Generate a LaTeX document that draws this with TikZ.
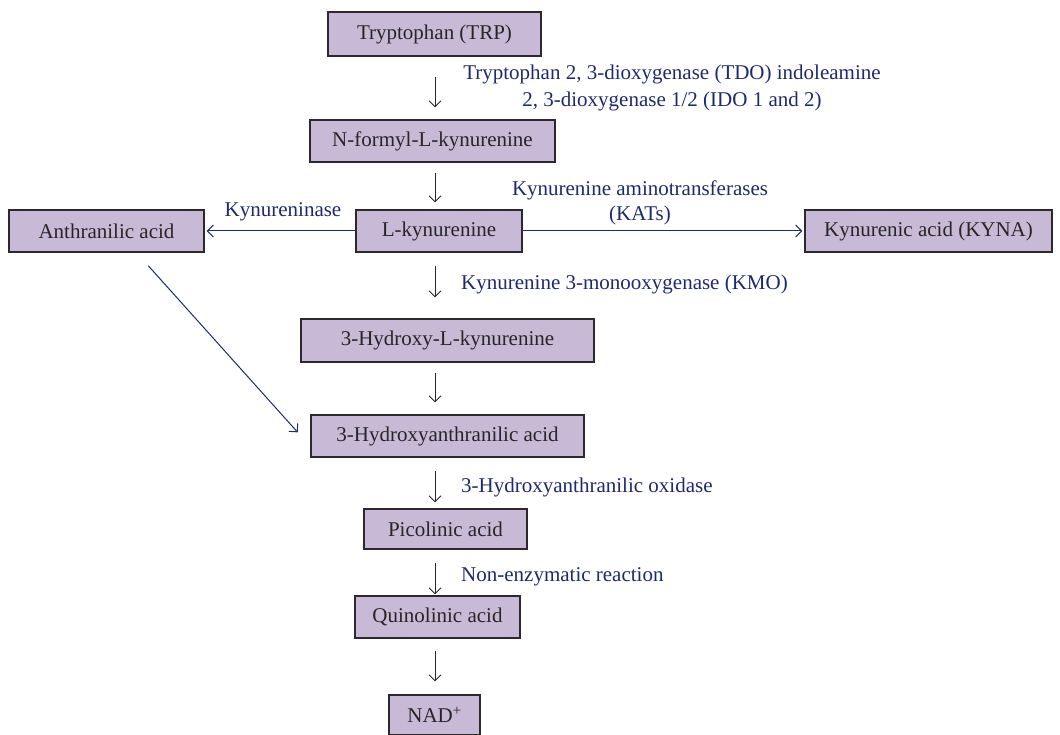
\documentclass[tikz,border=0pt]{standalone}
\usepackage{fontspec}
\setmainfont{Liberation Serif}
\usetikzlibrary{arrows.meta,calc}
\definecolor{boxfill}{RGB}{200,185,214}
\definecolor{boxline}{RGB}{45,40,45}
\definecolor{navy}{RGB}{30,42,110}
\tikzset{
  box/.style={draw=boxline, fill=boxfill, line width=1.2pt, inner sep=0pt,
    font=\fontsize{21}{24}\selectfont, text=black!85},
  lab/.style={inner sep=0pt, font=\fontsize{21}{26}\selectfont, text=navy},
  varrow/.style={draw=black!85, line width=0.9pt, -{Straight Barb[length=6pt,width=12pt]}},
  harrow/.style={draw=navy, line width=1pt, -{Straight Barb[length=6pt,width=12pt]}}
}
\begin{document}
\begin{tikzpicture}[x=1pt,y=-1pt]
\useasboundingbox (0,0) rectangle (1060,735);
\coordinate (ax) at (435,0);
\node[box, minimum width=213pt, minimum height=44pt] (trp) at (434.5,34) {Tryptophan (TRP)};
\node[box, minimum width=245pt, minimum height=42pt] (nfk) at (432.5,141) {N-formyl-L-kynurenine};
\node[box, minimum width=166pt, minimum height=42pt] (lk) at (439,231) {L-kynurenine};
\node[box, minimum width=195pt, minimum height=42pt] (anth) at (106.5,231) {Anthranilic acid};
\node[box, minimum width=247pt, minimum height=42pt] (kyna) at (928.5,231) {Kynurenic acid (KYNA)};
\node[box, minimum width=293pt, minimum height=43pt] (hk) at (447.5,340.5) {3-Hydroxy-L-kynurenine};
\node[box, minimum width=273pt, minimum height=42pt] (hya) at (447.5,436) {3-Hydroxyanthranilic acid};
\node[box, minimum width=163pt, minimum height=40pt] (pic) at (445.5,529) {Picolinic acid};
\node[box, minimum width=165pt, minimum height=42pt] (qa) at (437.5,617) {Quinolinic acid};
\node[box, minimum width=91pt, minimum height=40pt] (nad) at (434.5,715) {NAD\textsuperscript{+}};

\node[lab] (l1a) at (672,74) {Tryptophan 2, 3-dioxygenase (TDO) indoleamine};
\node[lab] (l1b) at (672,101) {2, 3-dioxygenase 1/2 (IDO 1 and 2)};
\node[lab] (l2) at (283,212) {Kynureninase};
\node[lab] (l3a) at (640,190) {Kynurenine aminotransferases};
\node[lab] (l3b) at (640,215) {(KATs)};
\node[lab, anchor=west] (l4) at (461,284) {Kynurenine 3-monooxygenase (KMO)};
\node[lab, anchor=west] (l5) at (461,487) {3-Hydroxyanthranilic oxidase};
\node[lab, anchor=west] (l6) at (461,577) {Non-enzymatic reaction};

\draw[varrow, shorten <=20pt, shorten >=12pt] (trp.south -| ax) -- (nfk.north -| ax);
\draw[varrow, shorten <=10pt, shorten >=7pt] (nfk.south -| ax) -- (lk.north -| ax);
\draw[varrow, shorten <=13pt, shorten >=21pt] (lk.south -| ax) -- (hk.north -| ax);
\draw[varrow, shorten <=10pt, shorten >=12pt] (hk.south -| ax) -- (hya.north -| ax);
\draw[varrow, shorten <=13pt, shorten >=6pt] (hya.south -| ax) -- (pic.north -| ax);
\draw[varrow, shorten <=13pt, shorten >=1pt] (pic.south -| ax) -- (qa.north -| ax);
\draw[varrow, shorten <=12pt, shorten >=13pt] (qa.south -| ax) -- (nad.north -| ax);

\draw[harrow, shorten >=2pt] (lk.west) -- (anth.east);
\draw[harrow, shorten >=2pt] (lk.east) -- (kyna.west);
\draw[harrow, shorten <=17.5pt, shorten >=19pt] ($(anth.south)+(30,0)$) -- ($(hya.west)+(0,10.5)$);
\end{tikzpicture}
\end{document}
